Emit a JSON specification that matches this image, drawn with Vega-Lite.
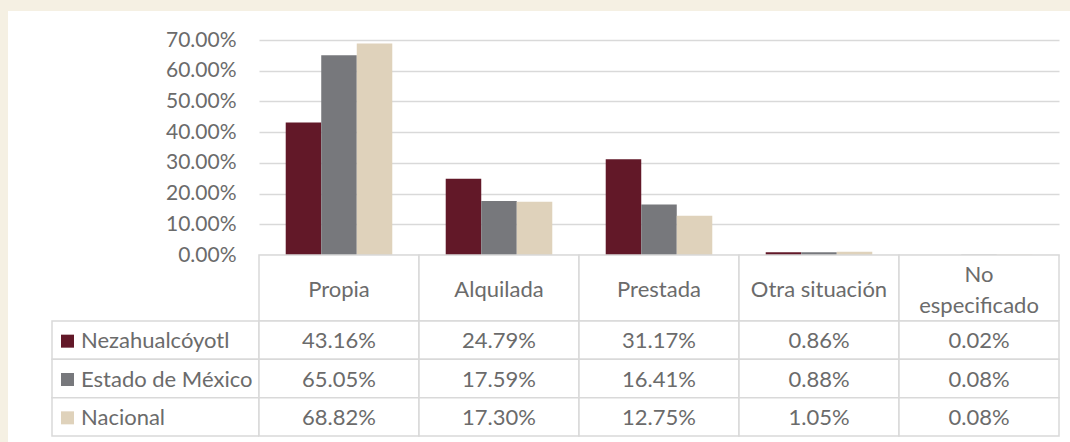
{
  "$schema": "https://vega.github.io/schema/vega-lite/v6.json",
  "background": "#F5F0E3",
  "padding": {"left": 8, "top": 11, "right": 0, "bottom": 0},
  "columns": 2,
  "spacing": 0,
  "bounds": "flush",
  "align": "each",
  "config": {
    "view": {"fill": "white", "stroke": null},
    "font": "Lato",
    "text": {"font": "Lato", "fontSize": 22, "color": "#6B6B6B"}
  },
  "datasets": {
    "bars": [
      {"cat": "Propia", "serie": "Nezahualcóyotl", "value": 0.4316},
      {"cat": "Propia", "serie": "Estado de México", "value": 0.6505},
      {"cat": "Propia", "serie": "Nacional", "value": 0.6882},
      {"cat": "Alquilada", "serie": "Nezahualcóyotl", "value": 0.2479},
      {"cat": "Alquilada", "serie": "Estado de México", "value": 0.1759},
      {"cat": "Alquilada", "serie": "Nacional", "value": 0.1730},
      {"cat": "Prestada", "serie": "Nezahualcóyotl", "value": 0.3117},
      {"cat": "Prestada", "serie": "Estado de México", "value": 0.1641},
      {"cat": "Prestada", "serie": "Nacional", "value": 0.1275},
      {"cat": "Otra situación", "serie": "Nezahualcóyotl", "value": 0.0086},
      {"cat": "Otra situación", "serie": "Estado de México", "value": 0.0088},
      {"cat": "Otra situación", "serie": "Nacional", "value": 0.0105},
      {"cat": "No especificado", "serie": "Nezahualcóyotl", "value": 0.0002},
      {"cat": "No especificado", "serie": "Estado de México", "value": 0.0008},
      {"cat": "No especificado", "serie": "Nacional", "value": 0.0008}
    ],
    "cats": [
      {"cat": "Propia", "label": "Propia", "lines": 1},
      {"cat": "Alquilada", "label": "Alquilada", "lines": 1},
      {"cat": "Prestada", "label": "Prestada", "lines": 1},
      {"cat": "Otra situación", "label": "Otra situación", "lines": 1},
      {"cat": "No especificado", "label": "No\nespecificado", "lines": 2}
    ],
    "series": [
      {"serie": "Nezahualcóyotl"},
      {"serie": "Estado de México"},
      {"serie": "Nacional"}
    ]
  },
  "concat": [
    {
      "width": 251,
      "height": 310,
      "data": {"values": [{}]},
      "mark": {"type": "rect", "fill": "white", "stroke": null},
      "encoding": {}
    },
    {
      "width": 811,
      "height": 310,
      "resolve": {"scale": {"x": "independent", "y": "independent"}},
      "layer": [
        {
          "data": {"name": "bars"},
          "mark": {"type": "bar"},
          "encoding": {
            "x": {
              "field": "cat", "type": "nominal",
              "sort": ["Propia", "Alquilada", "Prestada", "Otra situación", "No especificado"],
              "scale": {"range": [0, 800], "paddingInner": 0.334, "paddingOuter": 0.167},
              "axis": null
            },
            "xOffset": {
              "field": "serie", "type": "nominal",
              "sort": ["Nezahualcóyotl", "Estado de México", "Nacional"],
              "scale": {"paddingInner": 0, "paddingOuter": 0}
            },
            "y": {
              "field": "value", "type": "quantitative",
              "scale": {"domain": [0, 0.79442], "range": [244, 0], "nice": false, "zero": true},
              "axis": {
                "values": [0, 0.1, 0.2, 0.3, 0.4, 0.5, 0.6, 0.7],
                "format": ".2%",
                "title": null,
                "domain": false,
                "ticks": false,
                "labelPadding": 23,
                "labelFont": "Lato",
                "labelFontSize": 21,
                "labelColor": "#6B6B6B",
                "gridColor": "#D9D9D9",
                "gridWidth": 1.5
              }
            },
            "color": {
              "field": "serie", "type": "nominal",
              "scale": {
                "domain": ["Nezahualcóyotl", "Estado de México", "Nacional"],
                "range": ["#621828", "#77787C", "#DFD2BB"]
              },
              "legend": null
            }
          }
        },
        {
          "data": {"name": "cats"},
          "encoding": {
            "x": {
              "field": "cat", "type": "nominal",
              "sort": ["Propia", "Alquilada", "Prestada", "Otra situación", "No especificado"],
              "scale": {"range": [0, 800], "paddingInner": 0, "paddingOuter": 0},
              "axis": null
            },
            "y": {
              "datum": "header", "type": "nominal",
              "scale": {"range": [244, 310], "paddingInner": 0, "paddingOuter": 0},
              "axis": null
            }
          },
          "layer": [
            {"mark": {"type": "rect", "fill": "white", "stroke": "#D9D9D9", "strokeWidth": 1.5}},
            {
              "transform": [{"filter": "datum.lines == 1"}],
              "mark": {"type": "text", "dy": 2},
              "encoding": {"text": {"field": "label"}}
            },
            {
              "transform": [{"filter": "datum.lines == 2"}],
              "mark": {"type": "text", "lineBreak": "\n", "lineHeight": 31, "dy": -13},
              "encoding": {"text": {"field": "label"}}
            }
          ]
        }
      ]
    },
    {
      "width": 251,
      "height": 121,
      "data": {"name": "series"},
      "encoding": {
        "x": {
          "datum": "leg", "type": "nominal",
          "scale": {"paddingInner": 0, "paddingOuter": 0.10628, "align": 1},
          "axis": null
        },
        "y": {
          "field": "serie", "type": "nominal",
          "sort": ["Nezahualcóyotl", "Estado de México", "Nacional"],
          "scale": {"range": [0, 115], "paddingInner": 0, "paddingOuter": 0},
          "axis": null
        }
      },
      "layer": [
        {"mark": {"type": "rect", "fill": "white", "stroke": "#D9D9D9", "strokeWidth": 1.5}},
        {
          "mark": {"type": "square", "size": 169, "opacity": 1, "filled": true, "xOffset": -88, "yOffset": 1},
          "encoding": {
            "color": {
              "field": "serie", "type": "nominal",
              "scale": {
                "domain": ["Nezahualcóyotl", "Estado de México", "Nacional"],
                "range": ["#621828", "#77787C", "#DFD2BB"]
              },
              "legend": null
            }
          }
        },
        {
          "mark": {"type": "text", "align": "left", "xOffset": -74.5, "dy": 1, "fontSize": 22},
          "encoding": {"text": {"field": "serie"}}
        }
      ]
    },
    {
      "width": 811,
      "height": 121,
      "data": {"name": "bars"},
      "encoding": {
        "x": {
          "field": "cat", "type": "nominal",
          "sort": ["Propia", "Alquilada", "Prestada", "Otra situación", "No especificado"],
          "scale": {"range": [0, 800], "paddingInner": 0, "paddingOuter": 0},
          "axis": null
        },
        "y": {
          "field": "serie", "type": "nominal",
          "sort": ["Nezahualcóyotl", "Estado de México", "Nacional"],
          "scale": {"range": [0, 115], "paddingInner": 0, "paddingOuter": 0},
          "axis": null
        }
      },
      "layer": [
        {"mark": {"type": "rect", "fill": "white", "stroke": "#D9D9D9", "strokeWidth": 1.5}},
        {
          "mark": {"type": "text", "dy": 1},
          "encoding": {"text": {"field": "value", "type": "quantitative", "format": ".2%"}}
        }
      ]
    }
  ]
}
